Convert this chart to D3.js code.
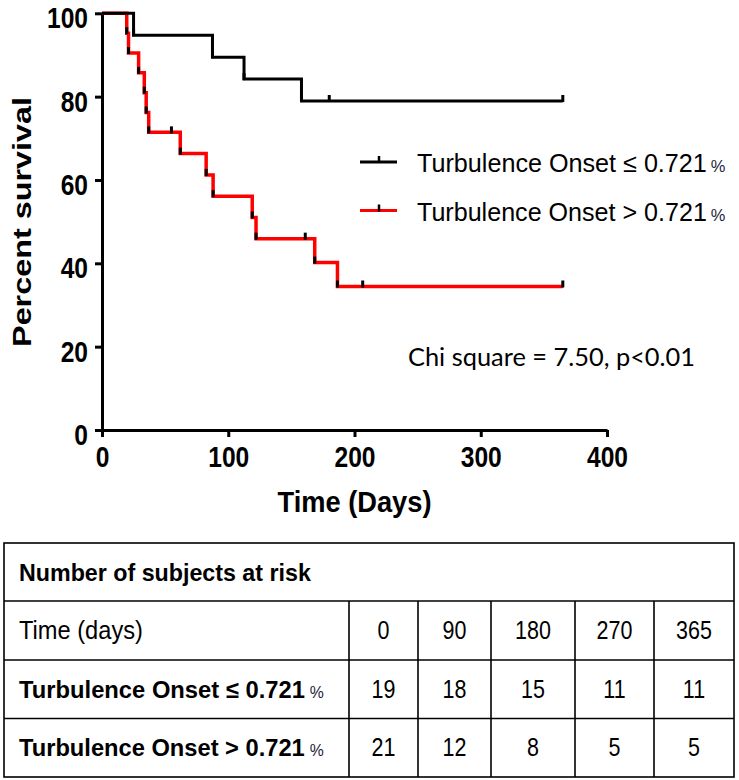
<!DOCTYPE html>
<html><head><meta charset="utf-8">
<script src="https://cdn.jsdelivr.net/npm/d3@7"></script>
<style>body{margin:0;background:#fff} svg{display:block}</style>
</head><body>
<svg id="chart" width="739" height="780"></svg>
<script>
// ---------- data ----------
const xTicks = [0, 100, 200, 300, 400];
const yTicks = [0, 20, 40, 60, 80, 100];
const groupLabels = ["Turbulence Onset \u2264 0.721", "Turbulence Onset > 0.721"];
const groupColors = ["#000000", "#ff0000"];
const lowTimes = [0, 25, 87.5, 112.5, 158, 180, 365];
const lowSurv = [100, 94.74, 89.47, 84.21, 78.95, 78.95, 78.95];
const lowCensored = [0, 0, 0, 0, 0, 1, 1];
const highTimes = [0, 19.6, 21, 29, 33.5, 35, 37, 55, 62, 82.5, 88, 119, 122, 161, 168.5, 186.5, 206.5, 365];
const highSurv = [100, 95.24, 90.48, 85.71, 80.95, 76.19, 71.43, 71.43, 66.33, 61.22, 56.12, 51.02, 45.92, 45.92, 40.18, 34.44, 34.44, 34.44];
const highCensored = [0, 0, 0, 0, 0, 0, 0, 1, 0, 0, 0, 0, 0, 1, 0, 0, 1, 1];
const riskHeader = "Number of subjects at risk";
const riskTimeLabel = "Time (days)";
const riskTimes = ["0", "90", "180", "270", "365"];
const riskLow = [19, 18, 15, 11, 11];
const riskHigh = [21, 12, 8, 5, 5];
const statText = "Chi square = 7.50, p<0.01";
const yTitle = "Percent survival";
const xTitle = "Time (Days)";

// ---------- drawing ----------
const svg = d3.select("#chart");
const FONT = "'Liberation Sans', Arial, sans-serif";
const SQ = 0.82; // horizontal squeeze of the original figure's tick text

// scale a text element horizontally so that `node` (text or tspan) spans `target` px
function fitScale(node, target) {
  const len = node.getComputedTextLength();
  return len > 0 ? target / len : 1;
}

const x = d3.scaleLinear().domain([0, 400]).range([102, 607]);
const y = d3.scaleLinear().domain([0, 100]).range([430, 13.3]);

// axes
const gy = svg.append("g").attr("transform", `translate(${x(0)},0)`)
  .call(d3.axisLeft(y).tickValues(yTicks).tickSize(7).tickSizeOuter(0).tickPadding(7));
const gx = svg.append("g").attr("transform", `translate(0,${y(0)})`)
  .call(d3.axisBottom(x).tickValues(xTicks).tickSize(7).tickSizeOuter(0).tickPadding(8));
[gx, gy].forEach(g => {
  g.select(".domain").attr("stroke", "#000").attr("stroke-width", 3);
  g.selectAll(".tick line").attr("stroke", "#000").attr("stroke-width", 3);
  g.selectAll(".tick text").attr("font-family", FONT).attr("font-size", 30)
    .attr("font-weight", "bold").attr("fill", "#000");
});
gy.selectAll(".tick text").attr("x", null).attr("dy", "0.48em")
  .attr("transform", `translate(-14,0) scale(${SQ},1)`);
gx.selectAll(".tick text").attr("y", null).attr("dy", "0.71em")
  .attr("transform", `translate(0,16) scale(${SQ},1)`);

// axis titles
const yt = svg.append("text").text(yTitle)
  .attr("font-family", FONT).attr("font-size", 31).attr("font-weight", "bold")
  .attr("text-anchor", "middle").attr("dominant-baseline", "central");
const ys = fitScale(yt.node(), 250);
yt.attr("transform", `translate(22,222) scale(${SQ},1) rotate(-90) scale(${ys},1)`);
const xt = svg.append("text").text(xTitle)
  .attr("font-family", FONT).attr("font-size", 29).attr("font-weight", "bold")
  .attr("text-anchor", "middle");
const xs = fitScale(xt.node(), 154);
xt.attr("transform", `translate(${(x(0) + x(400)) / 2},512) scale(${xs},1)`);

// survival curves
const series = [
  { t: highTimes, s: highSurv, c: highCensored, color: groupColors[1], w: 3.5 },
  { t: lowTimes, s: lowSurv, c: lowCensored, color: groupColors[0], w: 3 }
];
const line = d3.line().x(d => x(d[0])).y(d => y(d[1])).curve(d3.curveStepAfter);
series.forEach(sr => {
  const pts = sr.t.map((t, i) => [t, sr.s[i], sr.c[i]]);
  svg.append("path").datum(pts).attr("d", line)
    .attr("fill", "none").attr("stroke", sr.color).attr("stroke-width", sr.w);
});
series.forEach(sr => {
  const pts = sr.t.map((t, i) => [t, sr.s[i], sr.c[i]]).filter(d => d[0] > 0);
  svg.append("g").selectAll("line").data(pts).join("line")
    .attr("x1", d => x(d[0])).attr("x2", d => x(d[0]))
    .attr("y1", d => y(d[1]) - 6).attr("y2", d => y(d[1]) + 1)
    .attr("stroke", "#000").attr("stroke-width", 3);
});

// legend
const legY = [162, 210.5];
groupLabels.forEach((lab, i) => {
  const g = svg.append("g");
  g.append("line").attr("x1", 360).attr("x2", 397).attr("y1", legY[i]).attr("y2", legY[i])
    .attr("stroke", groupColors[i]).attr("stroke-width", 3);
  g.append("line").attr("x1", 379).attr("x2", 379).attr("y1", legY[i] - 6).attr("y2", legY[i] + 1)
    .attr("stroke", "#000").attr("stroke-width", 2.5);
  const t = g.append("text").attr("font-family", FONT).attr("font-size", 26);
  const main = t.append("tspan").text(lab);
  t.append("tspan").text("%").attr("font-size", 17).attr("dx", 4).attr("fill", "#1c1c3c");
  const s = fitScale(main.node(), 290);
  t.attr("transform", `translate(417,${legY[i] + 10}) scale(${s},1)`);
});

// statistic
svg.append("text").text(statText)
  .attr("x", 408).attr("y", 366)
  .attr("font-family", "Lato, 'Open Sans', sans-serif").attr("font-size", 25)
  .attr("textLength", 287).attr("lengthAdjust", "spacingAndGlyphs");

// at-risk table
const tblX0 = 4, tblX1 = 734;
const rowY = [543, 601, 660, 718.5, 777];
const colX = [349, 418, 491, 575, 654, 734];
const tg = svg.append("g");
tg.append("rect").attr("x", tblX0).attr("y", rowY[0]).attr("width", tblX1 - tblX0)
  .attr("height", rowY[4] - rowY[0]).attr("fill", "none").attr("stroke", "#000").attr("stroke-width", 1.6);
tg.selectAll("line.h").data(rowY.slice(1, 4)).join("line")
  .attr("x1", tblX0).attr("x2", tblX1).attr("y1", d => d).attr("y2", d => d)
  .attr("stroke", "#000").attr("stroke-width", 1.6);
tg.selectAll("line.v").data(colX.slice(0, 5)).join("line")
  .attr("x1", d => d).attr("x2", d => d).attr("y1", rowY[1]).attr("y2", rowY[4])
  .attr("stroke", "#000").attr("stroke-width", 1.6);

const hdr = tg.append("text").text(riskHeader)
  .attr("font-family", FONT).attr("font-size", 23).attr("font-weight", "bold");
hdr.attr("transform", `translate(19,581) scale(${fitScale(hdr.node(), 292)},1)`);
const tl = tg.append("text").text(riskTimeLabel)
  .attr("font-family", FONT).attr("font-size", 25);
tl.attr("transform", `translate(19,639) scale(${fitScale(tl.node(), 124)},1)`);
[0, 1].forEach(i => {
  const t = tg.append("text")
    .attr("font-family", FONT).attr("font-size", 24).attr("font-weight", "bold");
  const main = t.append("tspan").text(groupLabels[i]);
  t.append("tspan").text("%").attr("font-size", 16).attr("font-weight", "normal")
    .attr("dx", 5).attr("fill", "#1c1c3c");
  t.attr("transform", `translate(19,${[698, 756][i]}) scale(${fitScale(main.node(), 286)},1)`);
});
const rowVals = [riskTimes, riskLow, riskHigh];
const rowBase = [639, 698, 756];
rowVals.forEach((vals, r) => {
  tg.selectAll(null).data(vals).join("text")
    .text(d => d)
    .attr("text-anchor", "middle")
    .attr("font-family", FONT).attr("font-size", 25)
    .attr("transform", (d, i) => `translate(${(colX[i] + colX[i + 1]) / 2},${rowBase[r]}) scale(0.86,1)`);
});
</script>
</body></html>
